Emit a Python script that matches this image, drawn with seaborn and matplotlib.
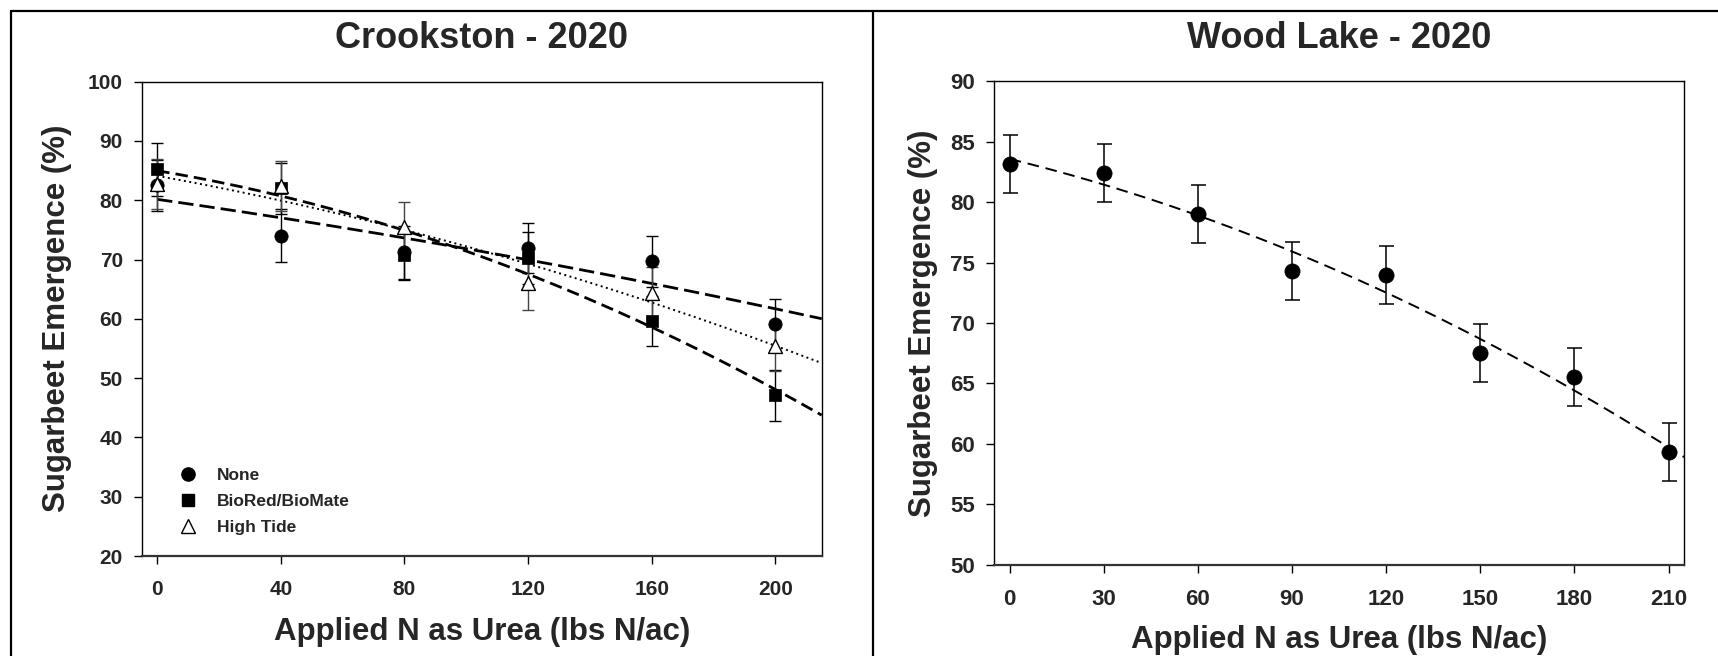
import numpy as np
import pandas as pd
import matplotlib
matplotlib.use("Agg")
import matplotlib.pyplot as plt
from matplotlib.lines import Line2D
import seaborn as sns

# ---------------- data ----------------
crk_rate = [0, 40, 80, 120, 160, 200]
crk_none = [82.5, 74.0, 71.2, 71.9, 69.7, 59.1]
crk_none_err = [4.3, 4.5, 4.5, 4.2, 4.3, 4.3]
crk_bio = [85.2, 82.0, 70.7, 70.2, 59.6, 47.1]
crk_bio_err = [4.5, 4.3, 4.1, 4.4, 4.2, 4.3]
crk_ht = [82.8, 82.4, 75.5, 66.0, 64.4, 55.4]
crk_ht_err = [4.2, 4.2, 4.2, 4.5, 4.3, 4.2]
series_names = ["None", "BioRed/BioMate", "High Tide"]

wl_rate = [0, 30, 60, 90, 120, 150, 180, 210]
wl_em = [83.15, 82.4, 79.0, 74.3, 74.0, 67.5, 65.5, 59.3]
wl_err = [2.4, 2.4, 2.4, 2.4, 2.4, 2.4, 2.4, 2.4]

crk_xticks = [0, 40, 80, 120, 160, 200]
crk_yticks = [20, 30, 40, 50, 60, 70, 80, 90, 100]
wl_xticks = [0, 30, 60, 90, 120, 150, 180, 210]
wl_yticks = [50, 55, 60, 65, 70, 75, 80, 85, 90]

# ---------------- style ----------------
sns.set_style("ticks")
plt.rcParams["font.family"] = ["Liberation Sans", "DejaVu Sans"]
plt.rcParams["font.weight"] = "bold"

W, H = 1718, 656
fig = plt.figure(figsize=(W / 100, H / 100), dpi=100)
fig.patch.set_facecolor("white")


def px_axes(l, t, r, b):
    return fig.add_axes([l / W, 1 - b / H, (r - l) / W, (b - t) / H])


ax1 = px_axes(141.7, 81.6, 821.7, 556.0)
ax2 = px_axes(994.0, 81.3, 1684.3, 564.7)

XMAX = 215


def fit_curve(x, y):
    coef = np.polyfit(x, y, 2)
    xs = np.linspace(min(x), XMAX, 300)
    return xs, np.polyval(coef, xs)


# ---------- Crookston ----------
line_styles = [
    dict(lw=2.0, linestyle=(0, (5.5, 2.2))),
    dict(lw=2.0, linestyle=(0, (4.5, 2.2))),
    dict(lw=1.4, linestyle=(0, (1, 1.8))),
]
ys = [crk_none, crk_bio, crk_ht]
errs = [crk_none_err, crk_bio_err, crk_ht_err]
for y, st in zip(ys, line_styles):
    xs, yf = fit_curve(crk_rate, y)
    sns.lineplot(x=xs, y=yf, ax=ax1, color="black", zorder=2, **st)

ecolors = ["black", "black", "#444444"]
for y, e, ec in zip(ys, errs, ecolors):
    ax1.errorbar(crk_rate, y, yerr=e, fmt="none", ecolor=ec, elinewidth=1.0,
                 capsize=4.5, capthick=1.0, zorder=3)

sns.scatterplot(x=crk_rate, y=crk_none, ax=ax1, marker="o", s=92, color="black",
                edgecolor="black", linewidth=0.5, zorder=5, legend=False)
sns.scatterplot(x=crk_rate, y=crk_bio, ax=ax1, marker="s", s=72, color="black",
                edgecolor="black", linewidth=0.5, zorder=5, legend=False)
sns.scatterplot(x=crk_rate, y=crk_ht, ax=ax1, marker="^", s=100, color="white",
                edgecolor="black", linewidth=1.0, zorder=6, legend=False)

ax1.set_xlim(-5, XMAX)
ax1.set_ylim(20, 100)
ax1.set_xticks(crk_xticks)
ax1.set_yticks(crk_yticks)

handles = [
    Line2D([], [], ls="none", marker="o", color="black", markersize=9.5),
    Line2D([], [], ls="none", marker="s", color="black", markersize=8.5),
    Line2D([], [], ls="none", marker="^", mfc="white", mec="black", mew=1.0, markersize=10.5),
]
ax1.legend(handles, series_names, loc="upper left", bbox_to_anchor=(0.057, 0.185),
           frameon=False, handlelength=0.85, handletextpad=1.25,
           labelspacing=0.62, borderpad=0, borderaxespad=0,
           prop={"weight": "bold", "size": 12.5})

# ---------- Wood Lake ----------
xs, yf = fit_curve(wl_rate, wl_em)
sns.lineplot(x=xs, y=yf, ax=ax2, color="black", lw=1.4, linestyle=(0, (6, 3.5)), zorder=2)
ax2.errorbar(wl_rate, wl_em, yerr=wl_err, fmt="none", ecolor="black", elinewidth=1.1,
             capsize=5.4, capthick=1.1, zorder=3)
sns.scatterplot(x=wl_rate, y=wl_em, ax=ax2, marker="o", s=120, color="black",
                edgecolor="black", linewidth=0.5, zorder=5, legend=False)
ax2.set_xlim(-5, XMAX)
ax2.set_ylim(50, 90)
ax2.set_xticks(wl_xticks)
ax2.set_yticks(wl_yticks)

# ---------- common formatting ----------
for ax, xlab_y, ylab_x, tsize in [(ax1, -0.160, -0.1246, 15), (ax2, -0.156, -0.1034, 16)]:
    for sp in ["left", "right", "top"]:
        ax.spines[sp].set_visible(True)
        ax.spines[sp].set_linewidth(1.0)
        ax.spines[sp].set_color("black")
    ax.spines["bottom"].set_linewidth(1.6)
    ax.spines["bottom"].set_color("#333333")
    ax.tick_params(axis="both", direction="out", length=5.5, width=1.0, color="black",
                   labelsize=tsize)
    ax.tick_params(axis="x", pad=12)
    ax.tick_params(axis="y", pad=8)
    for lab in ax.get_xticklabels() + ax.get_yticklabels():
        lab.set_fontweight("bold")
    ax.set_xlabel("Applied N as Urea (lbs N/ac)", fontsize=22.5, fontweight="bold")
    ax.set_ylabel("Sugarbeet Emergence (%)", fontsize=22.5, fontweight="bold")
    ax.xaxis.set_label_coords(0.5, xlab_y)
    ax.xaxis.label.set_va("center")
    ax.yaxis.set_label_coords(ylab_x, 0.5)
    ax.yaxis.label.set_va("center")
    ax.grid(False)

fig.text((141.7 + 821.7) / 2 / W, 1 - 39 / H, "Crookston - 2020", ha="center", va="center",
         fontsize=26, fontweight="bold")
fig.text((994.0 + 1684.3) / 2 / W, 1 - 39 / H, "Wood Lake - 2020", ha="center", va="center",
         fontsize=26, fontweight="bold")

# panel frame lines
for xy in [([11 / W, 11 / W], [0, 1 - 11 / H]),
           ([11 / W, 1], [1 - 11 / H, 1 - 11 / H]),
           ([873 / W, 873 / W], [0, 1 - 11 / H])]:
    fig.add_artist(Line2D(xy[0], xy[1], transform=fig.transFigure, color="black", lw=1.6))

fig.savefig("out.png", dpi=100, facecolor="white")
